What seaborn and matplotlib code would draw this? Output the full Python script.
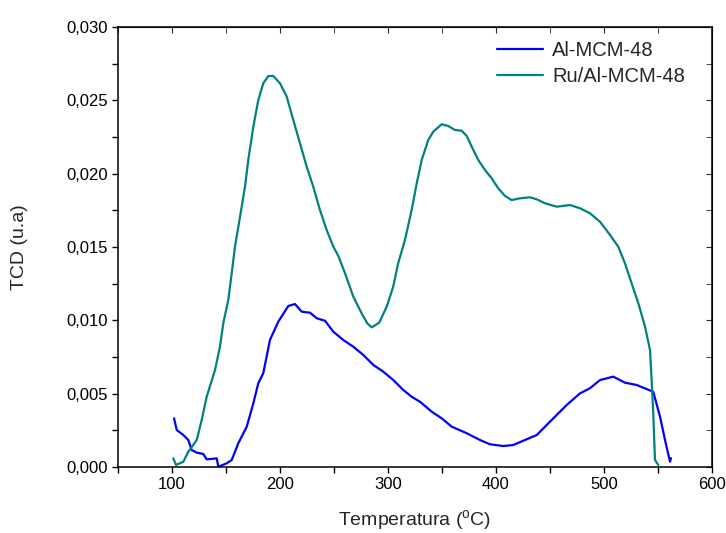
import numpy as np
import pandas as pd
import matplotlib
matplotlib.use("Agg")
import matplotlib.pyplot as plt
from matplotlib.ticker import MultipleLocator, FuncFormatter
import seaborn as sns

# Al-MCM-48 (blue)
al_T = [101.9, 104.4, 110.5, 115.1, 118.2, 122.9, 129.0, 132.1, 141.4, 142.9, 150.6, 155.3,
        161.4, 169.2, 175.3, 179.9, 184.5, 190.7, 198.4, 207.7, 213.9, 220.1, 227.8, 234.0,
        241.7, 249.4, 258.6, 267.9, 277.1, 286.4, 295.6, 304.9, 314.2, 321.9, 329.6, 340.5,
        349.7, 359.0, 372.9, 385.2, 394.4, 406.8, 416.0, 428.4, 437.7, 445.4, 456.2, 465.5,
        477.8, 487.0, 496.3, 508.6, 519.4, 530.3, 545.6, 551.9, 556.5, 561.1, 562.0]
al_V = [0.00332, 0.00252, 0.00218, 0.00184, 0.00116, 0.00098, 0.00089, 0.00052, 0.00059, 0.00002,
        0.00025, 0.00048, 0.00162, 0.00275, 0.00434, 0.00571, 0.00639, 0.00866, 0.00991, 0.01098,
        0.01111, 0.01059, 0.01052, 0.01014, 0.00997, 0.00922, 0.00866, 0.00820, 0.00764, 0.00696,
        0.00650, 0.00593, 0.00525, 0.00479, 0.00445, 0.00377, 0.00332, 0.00275, 0.00230, 0.00184,
        0.00155, 0.00143, 0.00150, 0.00189, 0.00218, 0.00275, 0.00355, 0.00423, 0.00502, 0.00537,
        0.00593, 0.00616, 0.00575, 0.00559, 0.00513, 0.00343, 0.00184, 0.00036, 0.00060]

# Ru/Al-MCM-48 (teal)
ru_T = [101.2, 103.7, 110.5, 115.1, 122.9, 127.5, 132.1, 139.8, 144.4, 147.5, 152.1, 155.3,
        158.3, 163.0, 167.6, 170.6, 175.3, 179.9, 184.5, 189.2, 193.8, 200.0, 206.2, 212.3,
        218.5, 224.7, 230.8, 237.0, 243.2, 249.4, 254.0, 260.2, 267.9, 275.6, 280.8, 284.9,
        291.9, 298.8, 304.8, 309.4, 315.7, 321.9, 326.6, 331.2, 337.3, 341.9, 349.7, 355.8,
        362.0, 368.2, 372.9, 377.5, 383.6, 389.8, 396.0, 402.1, 408.3, 414.5, 422.2, 431.5,
        437.7, 445.4, 456.2, 468.5, 477.8, 487.0, 496.3, 505.6, 513.2, 519.4, 525.6, 531.8,
        538.0, 542.6, 544.1, 545.6, 547.2, 550.3]
ru_V = [0.00059, 0.00014, 0.00036, 0.00104, 0.00184, 0.00320, 0.00479, 0.00661, 0.00820, 0.00980,
        0.01139, 0.01321, 0.01502, 0.01707, 0.01911, 0.02093, 0.02320, 0.02502, 0.02616, 0.02666,
        0.02666, 0.02616, 0.02525, 0.02366, 0.02207, 0.02048, 0.01911, 0.01752, 0.01616, 0.01502,
        0.01439, 0.01321, 0.01161, 0.01048, 0.00980, 0.00952, 0.00984, 0.01093, 0.01229, 0.01389,
        0.01548, 0.01752, 0.01934, 0.02093, 0.02230, 0.02286, 0.02337, 0.02325, 0.02298, 0.02293,
        0.02257, 0.02184, 0.02093, 0.02025, 0.01968, 0.01900, 0.01848, 0.01820, 0.01832, 0.01839,
        0.01825, 0.01798, 0.01775, 0.01786, 0.01764, 0.01730, 0.01672, 0.01582, 0.01502, 0.01389,
        0.01252, 0.01116, 0.00957, 0.00798, 0.00593, 0.00366, 0.00048, 0.00014]

labels = ["Al-MCM-48", "Ru/Al-MCM-48"]
colors = ["#0000ff", "#008080"]

df = pd.concat([
    pd.DataFrame({"T": al_T, "V": al_V, "Amostra": labels[0]}),
    pd.DataFrame({"T": ru_T, "V": ru_V, "Amostra": labels[1]}),
])

sns.set_style("ticks")
plt.rcParams["font.family"] = ["Liberation Sans", "DejaVu Sans"]
plt.rcParams["mathtext.fontset"] = "custom"
plt.rcParams["mathtext.rm"] = "Liberation Sans"

fig = plt.figure(figsize=(7.26, 5.33), dpi=100)
ax = fig.add_axes([118/726, 1-467/533, (712-118)/726, (467-27)/533])

sns.lineplot(data=df, x="T", y="V", hue="Amostra", palette=colors, sort=False,
             estimator=None, ax=ax, linewidth=1.6)

ax.set_xlim(50, 600)
ax.set_ylim(0, 0.030)
ax.xaxis.set_major_locator(MultipleLocator(100))
ax.xaxis.set_minor_locator(MultipleLocator(50))
ax.yaxis.set_major_locator(MultipleLocator(0.005))
ax.yaxis.set_minor_locator(MultipleLocator(0.0025))
ax.yaxis.set_major_formatter(FuncFormatter(lambda v, p: f"{v:.3f}".replace(".", ",")))
ax.xaxis.set_major_formatter(FuncFormatter(lambda v, p: f"{v:.0f}"))
ax.tick_params(which="both", direction="out", length=4, width=1, labelsize=12, colors="black")
for s in ax.spines.values():
    s.set_visible(True)
    s.set_linewidth(1.1)
    s.set_color("black")

top = ax.secondary_xaxis("top")
top.xaxis.set_major_locator(MultipleLocator(100))
top.xaxis.set_minor_locator(MultipleLocator(50))
top.tick_params(which="both", direction="in", length=4, labeltop=False)
right = ax.secondary_yaxis("right")
right.yaxis.set_major_locator(MultipleLocator(0.005))
right.yaxis.set_minor_locator(MultipleLocator(0.0025))
right.tick_params(which="both", direction="in", length=4, labelright=False)

ax.set_xlabel("Temperatura ($^{\\mathrm{o}}$C)", fontsize=14)
ax.set_ylabel("TCD (u.a)", fontsize=14)
ax.xaxis.set_label_coords(0.5, -0.094)
ax.yaxis.set_label_coords(-0.152, 0.5)

leg = ax.legend(loc="upper right", frameon=False, fontsize=14.5, handlelength=2.3,
                handletextpad=0.45, labelspacing=0.35, bbox_to_anchor=(0.985, 1.01))
for h in leg.legend_handles:
    h.set_linewidth(1.6)

fig.savefig("out.png", dpi=100)
